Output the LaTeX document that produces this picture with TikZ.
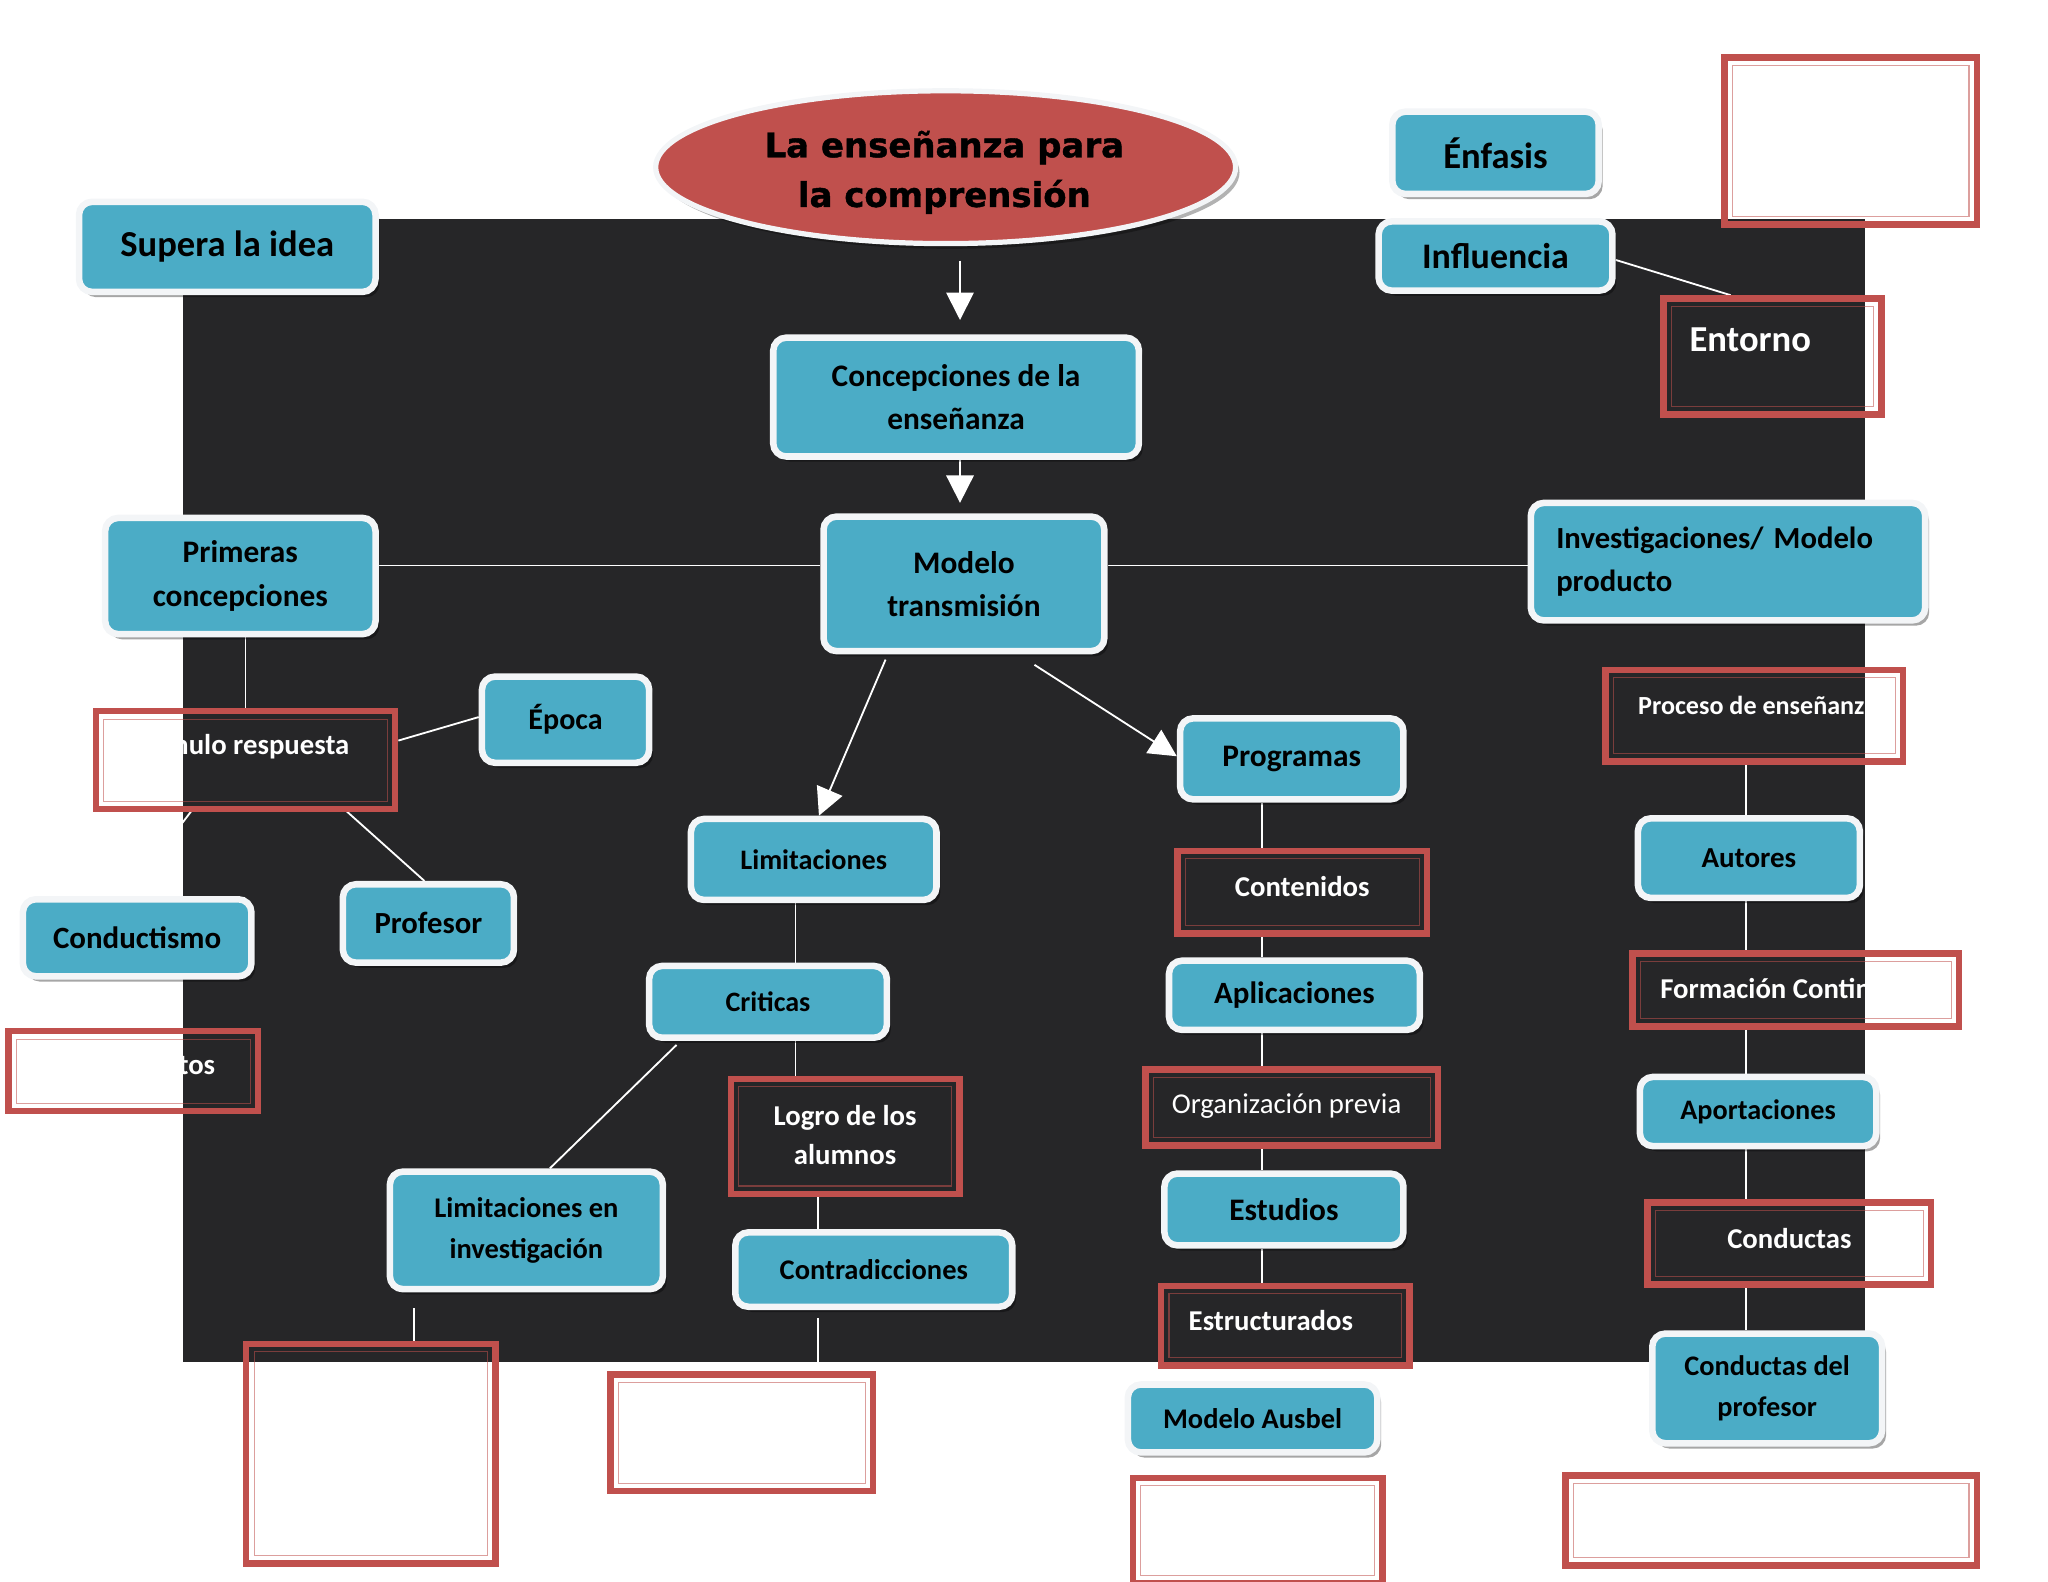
\documentclass[tikz,border=0pt]{standalone}
\usepackage{fontspec}
\setmainfont{Carlito}
\newfontfamily\titlefont[BoldFont={DejaVu Sans Bold}, BoldFeatures={FakeBold=1.2}]{DejaVu Sans}
\usetikzlibrary{shapes.geometric,shadows,arrows.meta,backgrounds}
\definecolor{darkbg}{HTML}{262628}
\definecolor{bluefill}{HTML}{4BACC6}
\definecolor{redline}{HTML}{C0504D}
\definecolor{rim}{HTML}{F3F5F7}
\begin{document}
\begin{tikzpicture}[x=1pt,y=-1pt,
  bluebox/.style={draw=rim, line width=5pt, fill=bluefill, rounded corners=10pt, inner sep=0pt, align=center, text=black,
    font=\bfseries\fontsize{24}{33}\selectfont,
    drop shadow={shadow xshift=3pt, shadow yshift=-4pt, fill=black, opacity=0.35}},
  redbox/.style={draw=redline, line width=5pt, inner sep=0pt},
  rtext/.style={text=white, font=\bfseries\fontsize{22}{30}\selectfont, align=center, inner sep=0pt},
  innerline/.style={draw=redline, draw opacity=0.55, line width=0.8pt},
  link/.style={draw=white, line width=1.4pt},
  arr/.style={link, -{Triangle[width=21pt,length=21pt]}},
]
\useasboundingbox (0,0) rectangle (1568,1211);

% title
\node[ellipse, draw=rim, line width=4pt, fill=redline, minimum width=444pt, minimum height=117pt, inner sep=0pt,
  drop shadow={shadow xshift=3pt, shadow yshift=-4pt, fill=black, opacity=0.3}] (title) at (724,128) {};
\node[align=center, inner sep=0pt, font=\titlefont\bfseries\fontsize{26}{38}\selectfont] (titleT) at (723,132) {La enseñanza para\\la comprensión};

% blue boxes
\node[bluebox, minimum width=227pt, minimum height=69pt, font=\bfseries\fontsize{28}{30}\selectfont] (supera) at (174,189) {Supera la idea};
\node[bluebox, minimum width=158pt, minimum height=63pt, font=\bfseries\fontsize{28}{30}\selectfont] (enfasis) at (1145,117) {Énfasis};
\node[bluebox, minimum width=179pt, minimum height=53pt, font=\bfseries\fontsize{27.5}{30}\selectfont] (influencia) at (1145,196) {Influencia};
\node[bluebox, minimum width=280pt, minimum height=91pt] (concep) at (732,304) {Concepciones de la\\enseñanza};
\node[bluebox, minimum width=215pt, minimum height=103pt] (modelo) at (738,447) {Modelo\\transmisión};
\node[bluebox, minimum width=207pt, minimum height=89pt] (primeras) at (184,441) {Primeras\\concepciones};
\node[bluebox, minimum width=302pt, minimum height=90pt, text width=263pt, align=left, font=\bfseries\fontsize{23.5}{33}\selectfont] (investig) at (1323,430) {Investigaciones/ Modelo\\producto};
\node[bluebox, minimum width=128pt, minimum height=66pt, font=\bfseries\fontsize{23}{30}\selectfont] (epoca) at (433,551) {Época};
\node[bluebox, minimum width=171pt, minimum height=62pt] (programas) at (989,581) {Programas};
\node[bluebox, minimum width=188pt, minimum height=62pt, font=\bfseries\fontsize{21.6}{30}\selectfont] (limit) at (623,658) {Limitaciones};
\node[bluebox, minimum width=131pt, minimum height=60pt, font=\bfseries\fontsize{23.5}{30}\selectfont] (profesor) at (328,707) {Profesor};
\node[bluebox, minimum width=175pt, minimum height=59pt, font=\bfseries\fontsize{23.7}{30}\selectfont] (conductismo) at (105,718) {Conductismo};
\node[bluebox, minimum width=182pt, minimum height=55pt, font=\bfseries\fontsize{21.5}{30}\selectfont] (criticas) at (588,767) {Criticas};
\node[bluebox, minimum width=192pt, minimum height=53pt, font=\bfseries\fontsize{23.7}{30}\selectfont] (aplic) at (991,762) {Aplicaciones};
\node[bluebox, minimum width=170pt, minimum height=61pt, font=\bfseries\fontsize{22.2}{30}\selectfont] (autores) at (1339,657) {Autores};
\node[bluebox, minimum width=181pt, minimum height=53pt, font=\bfseries\fontsize{21.6}{30}\selectfont] (aport) at (1346,851) {Aportaciones};
\node[bluebox, minimum width=183pt, minimum height=55pt] (estudios) at (983,926) {Estudios};
\node[bluebox, minimum width=209pt, minimum height=90pt, font=\bfseries\fontsize{21.8}{31}\selectfont] (liminv) at (403,942) {Limitaciones en\\investigación};
\node[bluebox, minimum width=212pt, minimum height=57pt, font=\bfseries\fontsize{21.8}{30}\selectfont] (contra) at (669,972) {Contradicciones};
\node[bluebox, minimum width=191pt, minimum height=52pt, font=\bfseries\fontsize{21.8}{30}\selectfont] (ausbel) at (959,1086) {Modelo Ausbel};
\node[bluebox, minimum width=176pt, minimum height=84pt, font=\bfseries\fontsize{21.7}{31}\selectfont] (condprof) at (1353,1063) {Conductas del\\profesor};

% red boxes
\node[redbox, minimum width=193pt, minimum height=128pt] (boxA) at (1417,108) {};
\node[redbox, minimum width=167pt, minimum height=89pt] (entorno) at (1357,273) {};
\node[redbox, minimum width=229pt, minimum height=75pt] (estimulo) at (188,582) {};
\node[redbox, minimum width=191pt, minimum height=61pt] (tos) at (102,820) {};
\node[redbox, minimum width=228pt, minimum height=70pt] (proceso) at (1343,548) {};
\node[redbox, minimum width=191pt, minimum height=63pt] (contenidos) at (997,683) {};
\node[redbox, minimum width=250pt, minimum height=56pt] (formacion) at (1375,758) {};
\node[redbox, minimum width=224pt, minimum height=58pt] (organiz) at (989,848) {};
\node[redbox, minimum width=175pt, minimum height=88pt] (logro) at (647,870) {};
\node[redbox, minimum width=217pt, minimum height=63pt] (conductas) at (1370,952) {};
\node[redbox, minimum width=190pt, minimum height=61pt] (estruct) at (984,1015) {};
\node[redbox, minimum width=191pt, minimum height=168pt] (boxL) at (284,1113) {};
\node[redbox, minimum width=201pt, minimum height=89pt] (boxM) at (568,1097) {};
\node[redbox, minimum width=191pt, minimum height=81pt] (boxN) at (963,1172) {};
\node[redbox, minimum width=315pt, minimum height=69pt] (boxO) at (1356,1164) {};
\foreach \n in {boxA,entorno,estimulo,tos,proceso,contenidos,formacion,organiz,logro,conductas,estruct,boxL,boxM,boxN,boxO}
  \draw[innerline] ([shift={(8.5,8.5)}]\n.north west) rectangle ([shift={(-8.5,-8.5)}]\n.south east);

% texts in red boxes
\node[rtext, font=\bfseries\fontsize{28}{30}\selectfont] (entornoT) at (1340,260) {Entorno};
\node[rtext] (estimT) at (181,572) {Estímulo respuesta};
\node[rtext] (tosT) at (102,817) {Experimentos};
\node[rtext, anchor=west, font=\bfseries\fontsize{20}{24}\selectfont] (procT) at (1254,540) {Proceso de enseñanza};
\node[rtext] (contT) at (997,679) {Contenidos};
\node[rtext, anchor=west] (formT) at (1271,757) {Formación Continua};
\node[rtext, font=\fontsize{22}{26}\selectfont] (orgT) at (985,847) {Organización previa};
\node[rtext] (logroT) at (647,869) {Logro de los\\alumnos};
\node[rtext] (condT) at (1370,948) {Conductas};
\node[rtext] (estrT) at (973,1011) {Estructurados};

\begin{pgfonlayer}{background}
\fill[darkbg] (140,168) rectangle (1428,1043);
\coordinate (colP) at (966,0);
\coordinate (colR) at (1337,0);
\draw[arr, shorten <=11pt, shorten >=11pt] ([xshift=3pt]title.south -| concep.north) -- ([xshift=3pt]concep.north);
\draw[arr, shorten >=8pt] ([xshift=3pt]concep.south) -- ([xshift=-3pt]modelo.north);
\draw[link] ([yshift=8pt]primeras.east) -- ([yshift=14pt]modelo.west);
\draw[link] ([yshift=14pt]modelo.east) -- ([yshift=-3pt]investig.west);
\draw[arr] ([xshift=-60pt, yshift=-4pt]modelo.south) -- ([xshift=4pt]limit.north);
\draw[arr] ([xshift=54pt, yshift=-8pt]modelo.south) -- ([yshift=2pt]programas.west);
\draw[link] (primeras.south -| estimulo.north) -- ([yshift=-3pt]estimulo.north);
\draw[link] ([yshift=15pt]estimulo.east) -- ([yshift=2pt]epoca.west);
\draw[link] ([xshift=75pt,yshift=3pt]estimulo.south) -- ([xshift=-3pt]profesor.north);
\draw[link] ([xshift=-40pt,yshift=3pt]estimulo.south) -- ([xshift=-8pt]conductismo.north);
\draw[link] (conductismo.south) -- (conductismo.south |- tos.north);
\draw[link] ([xshift=-14pt]limit.south) -- ([xshift=21pt]criticas.north);
\draw[link] ([xshift=21pt]criticas.south) -- ([xshift=-38pt]logro.north);
\draw[link] ([xshift=-70pt,yshift=-3pt]criticas.south) -- ([xshift=18pt]liminv.north);
\draw[link] ([xshift=-21pt]logro.south) -- ([xshift=-43pt]contra.north);
\draw[link, shorten <=6pt] ([xshift=-43pt]contra.south) -- ([xshift=58pt]boxM.north);
\draw[link, shorten <=12pt] ([xshift=-86pt]liminv.south) -- ([xshift=33pt, yshift=-4pt]boxL.north);
\foreach \p/\q in {programas/contenidos, contenidos/aplic, aplic/organiz, organiz/estudios, estudios/estruct, estruct/ausbel, ausbel/boxN}
  \draw[link] (\p.south -| colP) -- (\q.north -| colP);
\foreach \p/\q in {proceso/autores, autores/formacion, formacion/aport, aport/conductas, conductas/condprof, condprof/boxO}
  \draw[link] (\p.south -| colR) -- (\q.north -| colR);
\draw[link] ([yshift=-3pt]influencia.east) -- ([xshift=-32pt]entorno.north);
\draw[link] (enfasis.east) -- (enfasis.east -| boxA.west);
\end{pgfonlayer}
\end{tikzpicture}
\end{document}
